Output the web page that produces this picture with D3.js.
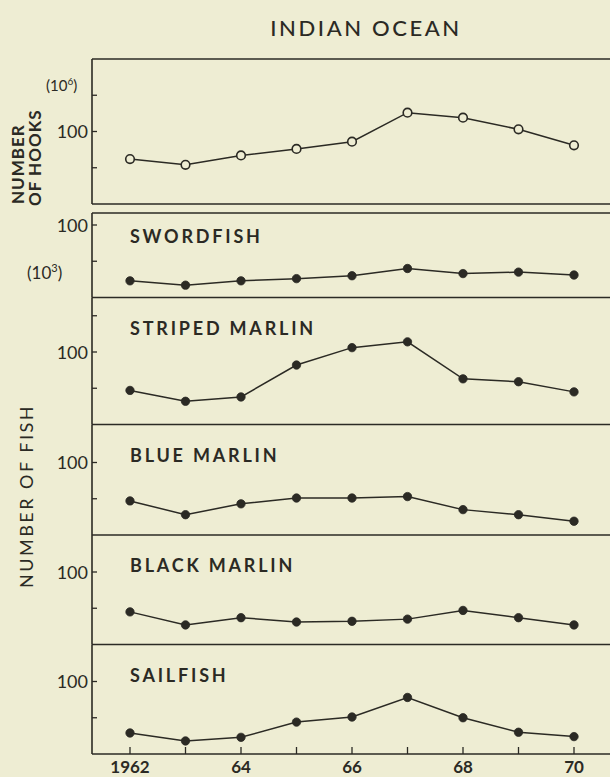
<!DOCTYPE html>
<html>
<head>
<meta charset="utf-8">
<script src="https://cdn.jsdelivr.net/npm/d3@7"></script>
<style>
  html, body { margin: 0; padding: 0; background: #eeedd3; }
  svg { display: block; }
  text { fill: #2b2a24; font-family: 'Lato', 'DejaVu Sans', sans-serif; }
  .panelLabel { font-weight: 700; font-size: 18px; letter-spacing: 2.8px; }
  .tickLabel { font-size: 18px; }
  .xLabel { font-size: 17px; font-weight: 700; }
</style>
</head>
<body>
<svg id="chart" width="610" height="777"></svg>
<script>
const years = [1962, 1963, 1964, 1965, 1966, 1967, 1968, 1969, 1970];
const xTickLabels = ['1962', '', '64', '', '66', '', '68', '', '70'];

// number of hooks, 10^6
const hooks = [62, 54, 67, 76, 86, 126, 119, 103, 81];
// number of fish, 10^3
const swordfish = [23, 17, 23, 26, 30, 40, 33, 35, 31];
const stripedMarlin = [47, 32, 38, 82, 106, 114, 63, 59, 45];
const blueMarlin = [47, 28, 43, 51, 51, 53, 35, 28, 19];
const blackMarlin = [45, 27, 37, 31, 32, 35, 47, 37, 27];
const sailfish = [29, 18, 23, 44, 51, 78, 50, 30, 24];

const yTicks = [50, 100, 150];

const ink = '#2b2a24';
const bg = '#eeedd3';
const pxPerUnit = 0.725;

const svg = d3.select('#chart');

const x = d3.scaleLinear().domain([1962, 1970]).range([130, 574]);
const left = 92;
const right = 611;

// panel boxes
const panels = [
  { name: '', values: hooks, top: 59, bottom: 204, open: true },
  { name: 'SWORDFISH', values: swordfish, top: 213, bottom: 297.5 },
  { name: 'STRIPED  MARLIN', values: stripedMarlin, top: 297.5, bottom: 424.5 },
  { name: 'BLUE  MARLIN', values: blueMarlin, top: 424.5, bottom: 535 },
  { name: 'BLACK  MARLIN', values: blackMarlin, top: 535, bottom: 644.5 },
  { name: 'SAILFISH', values: sailfish, top: 644.5, bottom: 754 }
];

// title
svg.append('text')
  .attr('x', 366)
  .attr('y', 36)
  .attr('text-anchor', 'middle')
  .style('font-size', '22px')
  .style('font-weight', 500)
  .style('letter-spacing', '2.6px')
  .text('INDIAN  OCEAN');

panels.forEach((p, i) => {
  const y = d3.scaleLinear()
    .domain([0, (p.bottom - p.top) / pxPerUnit])
    .range([p.bottom, p.top]);

  const g = svg.append('g').attr('class', 'panel');

  // frame lines
  g.append('line')
    .attr('x1', left).attr('x2', right)
    .attr('y1', p.bottom).attr('y2', p.bottom)
    .attr('stroke', ink).attr('stroke-width', 1.6);
  if (i === 0 || i === 1) {
    g.append('line')
      .attr('x1', left).attr('x2', right)
      .attr('y1', p.top).attr('y2', p.top)
      .attr('stroke', ink).attr('stroke-width', 1.6);
  }
  g.append('line')
    .attr('x1', left).attr('x2', left)
    .attr('y1', p.top).attr('y2', p.bottom)
    .attr('stroke', ink).attr('stroke-width', 1.6);

  // inside y ticks
  const ticks = yTicks.filter((t) => y(t) > p.top + 4);
  g.selectAll('line.yTick')
    .data(ticks)
    .enter()
    .append('line')
    .attr('class', 'yTick')
    .attr('x1', left).attr('x2', left + 5)
    .attr('y1', (d) => y(d)).attr('y2', (d) => y(d))
    .attr('stroke', ink).attr('stroke-width', 1.3);

  g.append('text')
    .attr('class', 'tickLabel')
    .attr('x', 88)
    .attr('y', y(100) + 6.5)
    .attr('text-anchor', 'end')
    .text('100');

  if (p.name) {
    g.append('text')
      .attr('class', 'panelLabel')
      .attr('x', 130)
      .attr('y', p.top + (i === 1 ? 30 : 37))
      .text(p.name);
  }

  const line = d3.line()
    .x((d, j) => x(years[j]))
    .y((d) => y(d));

  g.append('path')
    .datum(p.values)
    .attr('d', line)
    .attr('fill', 'none')
    .attr('stroke', ink)
    .attr('stroke-width', 1.5);

  g.selectAll('circle')
    .data(p.values)
    .enter()
    .append('circle')
    .attr('cx', (d, j) => x(years[j]))
    .attr('cy', (d) => y(d))
    .attr('r', p.open ? 4.3 : 4.2)
    .attr('fill', p.open ? bg : ink)
    .attr('stroke', ink)
    .attr('stroke-width', p.open ? 1.6 : 0.8);
});

// x axis ticks (inside, bottom panel)
const xAxisY = 754;
svg.selectAll('line.xTick')
  .data(years)
  .enter()
  .append('line')
  .attr('class', 'xTick')
  .attr('x1', (d) => x(d)).attr('x2', (d) => x(d))
  .attr('y1', xAxisY).attr('y2', xAxisY - 7)
  .attr('stroke', ink).attr('stroke-width', 1.3);

svg.selectAll('text.xLabel')
  .data(years)
  .enter()
  .append('text')
  .attr('class', 'xLabel')
  .attr('x', (d) => x(d))
  .attr('y', 773)
  .attr('text-anchor', 'middle')
  .text((d, i) => xTickLabels[i]);

// axis titles
svg.append('text')
  .attr('transform', 'translate(24,204) rotate(-90)')
  .style('font-size', '17px')
  .style('font-weight', 700)
  .style('letter-spacing', '1px')
  .text('NUMBER');

svg.append('text')
  .attr('transform', 'translate(41,206) rotate(-90)')
  .style('font-size', '17px')
  .style('font-weight', 700)
  .style('letter-spacing', '1px')
  .text('OF HOOKS');

const hooksUnit = svg.append('text')
  .attr('x', 46)
  .attr('y', 91)
  .style('font-size', '15px');
hooksUnit.append('tspan').text('(10');
hooksUnit.append('tspan').attr('dy', -6).style('font-size', '10px').text('6');
hooksUnit.append('tspan').attr('dy', 6).text(')');

const fishUnit = svg.append('text')
  .attr('x', 27)
  .attr('y', 279)
  .style('font-size', '17px');
fishUnit.append('tspan').text('(10');
fishUnit.append('tspan').attr('dy', -7).style('font-size', '11px').text('3');
fishUnit.append('tspan').attr('dy', 7).text(')');

svg.append('text')
  .attr('transform', 'translate(33,496) rotate(-90)')
  .attr('text-anchor', 'middle')
  .style('font-size', '18px')
  .style('letter-spacing', '2.5px')
  .text('NUMBER  OF  FISH');
</script>
</body>
</html>
